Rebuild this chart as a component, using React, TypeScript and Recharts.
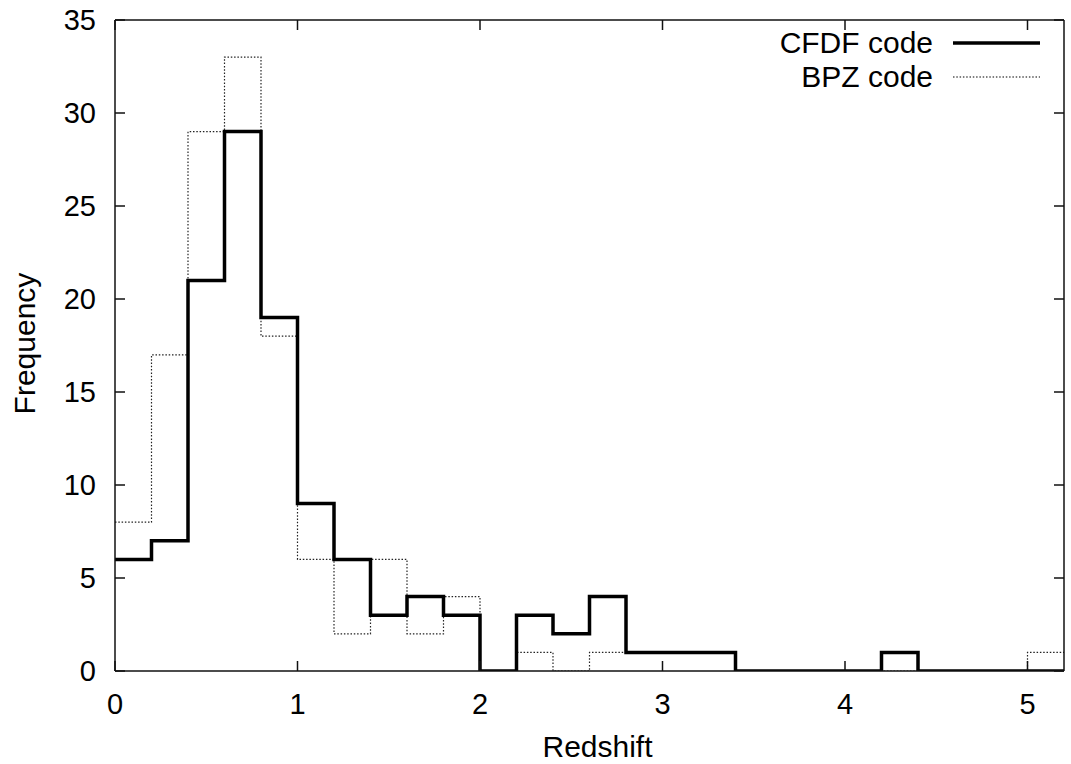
import React from 'react';
import { ComposedChart, Line, XAxis, YAxis, Legend, Label } from 'recharts';

// bin edges (redshift), 0.2 wide bins from 0 to 5.2
const binEdges = [0, 0.2, 0.4, 0.6, 0.8, 1.0, 1.2, 1.4, 1.6, 1.8, 2.0, 2.2, 2.4, 2.6, 2.8, 3.0, 3.2, 3.4, 3.6, 3.8, 4.0, 4.2, 4.4, 4.6, 4.8, 5.0, 5.2];
// counts per bin (26 bins)
const cfdfCounts = [6, 7, 21, 29, 19, 9, 6, 3, 4, 3, 0, 3, 2, 4, 1, 1, 1, 0, 0, 0, 0, 1, 0, 0, 0, 0];
const bpzCounts = [8, 17, 29, 33, 18, 6, 2, 6, 2, 4, 0, 1, 0, 1, 1, 1, 1, 0, 0, 0, 0, 0, 0, 0, 0, 1];
const xTicks = [0, 1, 2, 3, 4, 5];
const yTicks = [0, 5, 10, 15, 20, 25, 30, 35];
const seriesNames = { cfdf: 'CFDF code', bpz: 'BPZ code' };

const data = binEdges.map((x, i) => ({
  x,
  cfdf: cfdfCounts[Math.min(i, cfdfCounts.length - 1)],
  bpz: bpzCounts[Math.min(i, bpzCounts.length - 1)],
}));

const FONT = '"Liberation Sans", Arial, Helvetica, sans-serif';
const FS = 29;
const TICK_LEN = 10;
const X_MARGIN = 22;
const Y_MARGIN = 19;
const AXIS_COLOR = '#111';

const BottomTick = (props: any) => {
  const { x, y, payload } = props;
  const ay = y - X_MARGIN;
  return (
    <g>
      <line x1={x} y1={ay} x2={x} y2={ay - TICK_LEN} stroke={AXIS_COLOR} strokeWidth={1.5} />
      <text x={x} y={y} dy="0.71em" textAnchor="middle" fontFamily={FONT} fontSize={FS} fill="#000">
        {payload.value}
      </text>
    </g>
  );
};

const LeftTick = (props: any) => {
  const { x, y, payload } = props;
  const ax = x + Y_MARGIN;
  return (
    <g>
      <line x1={ax} y1={y} x2={ax + TICK_LEN} y2={y} stroke={AXIS_COLOR} strokeWidth={1.5} />
      <text x={x} y={y} dy="0.355em" textAnchor="end" fontFamily={FONT} fontSize={FS} fill="#000">
        {payload.value}
      </text>
    </g>
  );
};

const TopTick = (props: any) => {
  const { x, y } = props;
  return <line x1={x} y1={y} x2={x} y2={y + TICK_LEN} stroke={AXIS_COLOR} strokeWidth={1.5} />;
};

const RightTick = (props: any) => {
  const { x, y } = props;
  return <line x1={x} y1={y} x2={x - TICK_LEN} y2={y} stroke={AXIS_COLOR} strokeWidth={1.5} />;
};

const YLabel = (props: any) => {
  const vb = props.viewBox || {};
  const cx = 24;
  const cy = vb.y + vb.height / 2 - 2;
  return (
    <text x={cx} y={cy} transform={`rotate(-90 ${cx} ${cy})`} textAnchor="middle" dominantBaseline="central" fontFamily={FONT} fontSize={30} fill="#000">
      Frequency
    </text>
  );
};

const XLabel = (props: any) => {
  const vb = props.viewBox || {};
  const cx = vb.x + vb.width / 2 + 8;
  const by = vb.y + vb.height - 7;
  return (
    <text x={cx} y={by} textAnchor="middle" fontFamily={FONT} fontSize={30} fill="#000">
      Redshift
    </text>
  );
};

const LegendContent = () => {
  const rows = [
    { name: seriesNames.cfdf, width: 3.5, dash: undefined as string | undefined },
    { name: seriesNames.bpz, width: 1.2, dash: '1.5 1.8' },
  ];
  return (
    <div style={{ fontFamily: FONT, fontSize: 30, color: '#000' }}>
      {rows.map((r) => (
        <div key={r.name} style={{ display: 'flex', alignItems: 'center', justifyContent: 'flex-end', height: 34 }}>
          <span style={{ lineHeight: '34px' }}>{r.name}</span>
          <svg width={87} height={10} style={{ marginLeft: 20, display: 'block' }}>
            <line x1={0} y1={5} x2={87} y2={5} stroke="#000" strokeWidth={r.width} strokeDasharray={r.dash} />
          </svg>
        </div>
      ))}
    </div>
  );
};

export default function App() {
  return (
    <div style={{ position: 'absolute', left: 0, top: 0, background: '#fff' }}>
      <ComposedChart width={1071} height={764} data={data} margin={{ top: 0, right: 0, bottom: 0, left: 0 }}>
        <XAxis
          xAxisId="b"
          dataKey="x"
          type="number"
          domain={[0, 5.2]}
          ticks={xTicks}
          allowDataOverflow
          orientation="bottom"
          height={93}
          tickSize={0}
          tickMargin={X_MARGIN}
          tickLine={false}
          axisLine={{ stroke: AXIS_COLOR, strokeWidth: 1.5 }}
          tick={<BottomTick />}
          interval={0}
        >
          <Label content={<XLabel />} />
        </XAxis>
        <XAxis
          xAxisId="t"
          dataKey="x"
          type="number"
          domain={[0, 5.2]}
          ticks={xTicks}
          allowDataOverflow
          orientation="top"
          height={20}
          tickSize={0}
          tickMargin={0}
          tickLine={false}
          axisLine={{ stroke: AXIS_COLOR, strokeWidth: 1.5 }}
          tick={<TopTick />}
          interval={0}
        />
        <YAxis
          yAxisId="l"
          type="number"
          domain={[0, 35]}
          ticks={yTicks}
          allowDataOverflow
          orientation="left"
          width={115}
          tickSize={0}
          tickMargin={Y_MARGIN}
          tickLine={false}
          axisLine={{ stroke: AXIS_COLOR, strokeWidth: 1.5 }}
          tick={<LeftTick />}
          interval={0}
        >
          <Label content={<YLabel />} />
        </YAxis>
        <YAxis
          yAxisId="r"
          type="number"
          domain={[0, 35]}
          ticks={yTicks}
          allowDataOverflow
          orientation="right"
          width={7}
          tickSize={0}
          tickMargin={0}
          tickLine={false}
          axisLine={{ stroke: AXIS_COLOR, strokeWidth: 1.5 }}
          tick={<RightTick />}
          interval={0}
        />
        <Legend
          layout="horizontal"
          verticalAlign="middle"
          align="center"
          content={<LegendContent />}
          wrapperStyle={{ top: 26, right: 31, left: 'auto', width: 'auto' }}
        />
        <Line
          xAxisId="b"
          yAxisId="l"
          type="stepAfter"
          dataKey="bpz"
          name={seriesNames.bpz}
          stroke="#222"
          strokeWidth={1.2}
          strokeDasharray="1.5 1.8"
          dot={false}
          activeDot={false}
          isAnimationActive={false}
        />
        <Line
          xAxisId="b"
          yAxisId="l"
          type="stepAfter"
          dataKey="cfdf"
          name={seriesNames.cfdf}
          stroke="#000"
          strokeWidth={3.5}
          dot={false}
          activeDot={false}
          isAnimationActive={false}
        />
      </ComposedChart>
    </div>
  );
}
